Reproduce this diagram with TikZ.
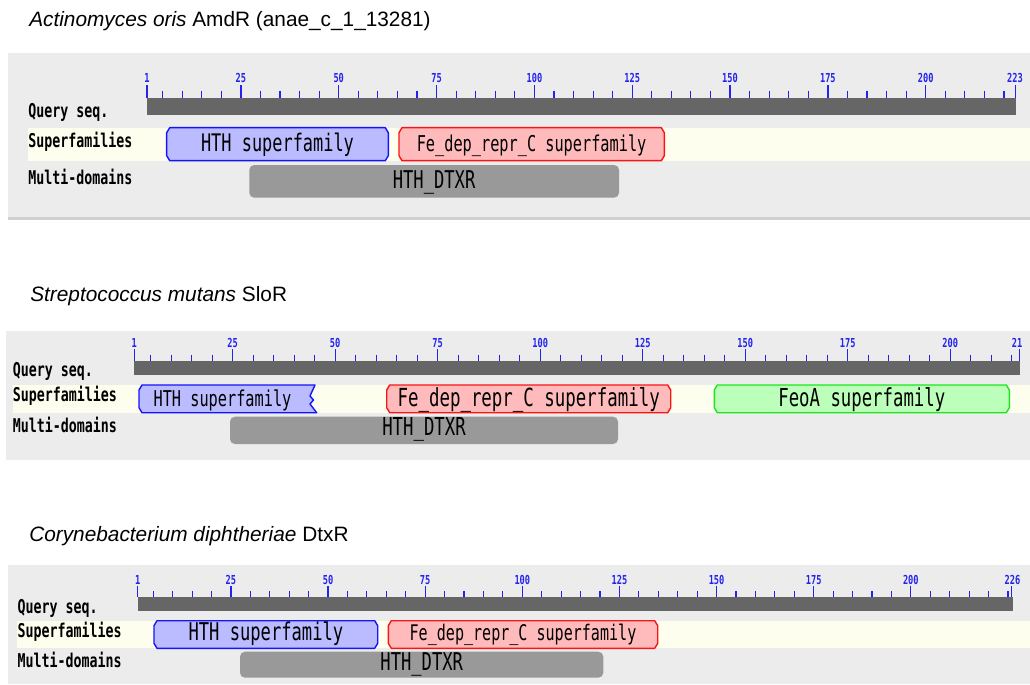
\documentclass[tikz,border=0pt]{standalone}
\usepackage{fontspec}
\setmainfont{Liberation Sans}
\newfontfamily\cddfont[FakeStretch=0.7]{DejaVu Sans Mono}
\usepackage{tikz}
\definecolor{colPanel}{RGB}{236,236,236}
\definecolor{colRim}{RGB}{208,208,208}
\definecolor{colBand}{RGB}{254,254,238}
\definecolor{colQuery}{RGB}{102,102,102}
\definecolor{colTick}{RGB}{35,35,240}
\definecolor{colHTH}{RGB}{187,187,255}
\definecolor{colHTHe}{RGB}{20,20,250}
\definecolor{colFe}{RGB}{255,187,187}
\definecolor{colFee}{RGB}{250,20,20}
\definecolor{colFeo}{RGB}{187,255,187}
\definecolor{colFeoe}{RGB}{30,230,30}
\definecolor{colMulti}{RGB}{153,153,153}
\tikzstyle{title}=[anchor=base west, inner sep=0pt, font=\fontsize{14.8}{17}\selectfont]
\tikzstyle{panelbg}=[fill=colPanel]
\tikzstyle{sfband}=[fill=colBand]
\tikzstyle{qbar}=[fill=colQuery]
\tikzstyle{majortick}=[colTick, line width=0.9pt]
\tikzstyle{minortick}=[colTick, line width=0.8pt]
\tikzstyle{ticklabel}=[anchor=base, inner sep=0pt, colTick, font=\cddfont\bfseries\fontsize{8.8}{9}\selectfont]
\tikzstyle{rowlabel}=[anchor=base west, inner sep=0pt, font=\cddfont\bfseries\fontsize{13.5}{15}\selectfont]
\tikzstyle{domtext}=[anchor=base, inner sep=0pt]
\tikzstyle{hthbox}=[fill=colHTH, draw=colHTHe, line width=1pt, line join=round]
\tikzstyle{febox}=[fill=colFe, draw=colFee, line width=1pt, line join=round]
\tikzstyle{feobox}=[fill=colFeo, draw=colFeoe, line width=1pt, line join=round]
\tikzstyle{multibox}=[fill=colMulti, rounded corners=3.5pt]
% chamfered superfamily box: style, x0, x1, y0, y1
\newcommand{\sfshape}[5]{\draw[#1] (#2+3,#4) -- (#3-3,#4) -- (#3,#4+5) -- (#3,#5-5) -- (#3-3,#5) -- (#2+3,#5) -- (#2,#5-5) -- (#2,#4+5) -- cycle;}

\begin{document}
\begin{tikzpicture}[x=0.025cm, y=-0.025cm]
	\useasboundingbox (0,0) rectangle (1030,684);

	%%% Panel 1
	\node[title] (title1) at (29,26) {\itshape Actinomyces oris\upshape{} AmdR (anae\_c\_1\_13281)};
	\fill[panelbg] (8,53) rectangle (1030,217);
	\fill[colRim] (8,217) rectangle (1030,220);
	\fill[sfband] (28,127.7) rectangle (1030,160.7);
	\fill[qbar] (147,98.3) rectangle (1015.7,115.3);
	% Ruler
	\foreach \r in {5,10,...,220}
		\draw[minortick] ({147+(\r-1)*3.913},90.7) -- ++(0,7.6);
	\foreach \r in {1,25,50,...,200} {
		\draw[majortick] ({147+(\r-1)*3.913},85) -- ++(0,13.3);
		\node[ticklabel] (a\r) at ({147+(\r-1)*3.913},82.7) {\r};
	}
	\draw[majortick] (1015.7,85) -- ++(0,13.3);
	\node[ticklabel] (a223) at (1015,82.7) {223};
	% Row labels
	\node[rowlabel] (lq1)  at (28,117.3) {Query seq.};
	\node[rowlabel] (lsf1) at (28,147.3) {Superfamilies};
	\node[rowlabel] (lmd1) at (28,184)   {Multi-domains};
	% Domains
	\sfshape{hthbox}{166.7}{388.3}{127.7}{160.7}
	\node[domtext, font=\cddfont\fontsize{17.2}{18}\selectfont] (hth1) at (277.5,151) {HTH superfamily};
	\sfshape{febox}{399}{664.3}{127.7}{160.7}
	\node[domtext, font=\cddfont\fontsize{15.5}{17}\selectfont] (fe1) at (531.6,151) {Fe\_dep\_repr\_C superfamily};
	\fill[multibox] (249.3,165) rectangle (619,197.7);
	\node[domtext, font=\cddfont\fontsize{17.4}{18}\selectfont] (md1) at (434.1,188.3) {HTH\_DTXR};

	%%% Panel 2
	\node[title] (title2) at (30,301.5) {\itshape Streptococcus mutans\upshape{} SloR};
	\fill[panelbg] (6,331) rectangle (1030,460);
	\fill[sfband] (12.7,385) rectangle (1030,412.7);
	\fill[qbar] (134.3,360.7) rectangle (1019.5,375);
	% Ruler
	\foreach \r in {5,10,...,215}
		\draw[minortick] ({134.3+(\r-1)*4.1},354.5) -- ++(0,6.2);
	\foreach \r in {1,25,50,...,200} {
		\draw[majortick] ({134.3+(\r-1)*4.1},349.3) -- ++(0,11.4);
		\node[ticklabel] (b\r) at ({134.3+(\r-1)*4.1},347.3) {\r};
	}
	\draw[majortick] (1019.5,349.3) -- ++(0,11.4);
	\node[ticklabel, anchor=base west] (b216) at (1011.7,347.3) {21};
	% Row labels
	\node[rowlabel] (lq2)  at (12.7,376.7) {Query seq.};
	\node[rowlabel] (lsf2) at (12.7,401.7) {Superfamilies};
	\node[rowlabel] (lmd2) at (12.7,432.7) {Multi-domains};
	% Domains
	\draw[hthbox] (142,385) -- (315,385) -- (310,396) -- (313.5,400) -- (310,404) -- (316.7,412.7)
		-- (142,412.7) -- (139,407.7) -- (139,390) -- cycle;
	\node[domtext, font=\cddfont\fontsize{15.5}{17}\selectfont] (hth2) at (222.5,406) {HTH superfamily};
	\sfshape{febox}{386.7}{670.7}{385}{412.7}
	\node[domtext, font=\cddfont\fontsize{17.7}{18}\selectfont] (fe2) at (528.7,406) {Fe\_dep\_repr\_C superfamily};
	\sfshape{feobox}{714.3}{1009.3}{385}{412.7}
	\node[domtext, font=\cddfont\fontsize{17.6}{18}\selectfont] (feo2) at (861.8,406) {FeoA superfamily};
	\fill[multibox] (230,416.7) rectangle (618,444);
	\node[domtext, font=\cddfont\fontsize{17.6}{18}\selectfont] (md2) at (424,435) {HTH\_DTXR};

	%%% Panel 3
	\node[title] (title3) at (29,541.5) {\itshape Corynebacterium diphtheriae\upshape{} DtxR};
	\fill[panelbg] (8,565) rectangle (1030,684);
	\fill[sfband] (17.3,620.7) rectangle (1030,648.3);
	\fill[qbar] (137.7,597.3) rectangle (1013,611.3);
	% Ruler
	\foreach \r in {5,10,...,225}
		\draw[minortick] ({137.7+(\r-1)*3.885},591) -- ++(0,6.3);
	\foreach \r in {1,25,50,...,200} {
		\draw[majortick] ({137.7+(\r-1)*3.885},586) -- ++(0,11.3);
		\node[ticklabel] (c\r) at ({137.7+(\r-1)*3.885},584) {\r};
	}
	\draw[majortick] (1011.8,586) -- ++(0,11.3);
	\node[ticklabel] (c226) at (1012.5,584) {226};
	% Row labels
	\node[rowlabel] (lq3)  at (17.3,613.8) {Query seq.};
	\node[rowlabel] (lsf3) at (17.3,637.3) {Superfamilies};
	\node[rowlabel] (lmd3) at (17.3,667.3) {Multi-domains};
	% Domains
	\sfshape{hthbox}{154}{377.7}{620.7}{648.3}
	\node[domtext, font=\cddfont\fontsize{17.4}{18}\selectfont] (hth3) at (265.9,640) {HTH superfamily};
	\sfshape{febox}{388.3}{657.7}{620.7}{648.3}
	\node[domtext, font=\cddfont\fontsize{15.3}{17}\selectfont] (fe3) at (523,640) {Fe\_dep\_repr\_C superfamily};
	\fill[multibox] (240,651.7) rectangle (603.3,677.7);
	\node[domtext, font=\cddfont\fontsize{17.4}{18}\selectfont] (md3) at (421.7,670.5) {HTH\_DTXR};
\end{tikzpicture}
\end{document}
